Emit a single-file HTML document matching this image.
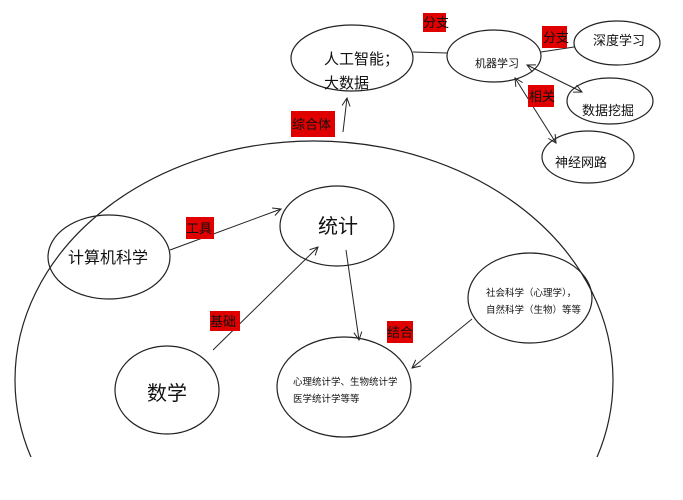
<!DOCTYPE html>
<html><head><meta charset="utf-8"><style>
html,body{margin:0;padding:0;background:#fff;width:683px;height:500px;overflow:hidden;}
svg{display:block;}
text{font-family:"Liberation Sans","Noto Sans CJK SC",sans-serif;fill:#111;}
</style></head><body>
<svg width="683" height="500" viewBox="0 0 683 500" xmlns="http://www.w3.org/2000/svg">
<defs>
<marker id="a" markerWidth="10" markerHeight="10" refX="9" refY="5" orient="auto-start-reverse" markerUnits="userSpaceOnUse">
<path d="M1,1 L9,5 L1,9" fill="none" stroke="#222" stroke-width="1"/></marker>
<clipPath id="c"><rect x="0" y="0" width="683" height="457"/></clipPath>
</defs>
<g fill="none" stroke="#222" stroke-width="1.2">
<ellipse cx="314" cy="380" rx="299" ry="239" clip-path="url(#c)"/>
<ellipse cx="352" cy="58" rx="61" ry="33"/>
<ellipse cx="494" cy="56" rx="47" ry="26"/>
<ellipse cx="617" cy="43" rx="43" ry="22"/>
<ellipse cx="610" cy="101" rx="43" ry="23"/>
<ellipse cx="588" cy="157" rx="46" ry="26"/>
<ellipse cx="337" cy="226" rx="57" ry="40"/>
<ellipse cx="109" cy="257" rx="61" ry="42"/>
<ellipse cx="167" cy="390" rx="52" ry="44"/>
<ellipse cx="344" cy="387" rx="67" ry="50"/>
<ellipse cx="530" cy="298" rx="62" ry="45"/>
</g>
<g stroke="#222" stroke-width="1" fill="none">
<line x1="413" y1="52" x2="447" y2="53"/>
<line x1="541" y1="52" x2="574" y2="47"/>
<line x1="527" y1="65" x2="582" y2="92" marker-start="url(#a)" marker-end="url(#a)"/>
<line x1="515" y1="78" x2="556" y2="143" marker-start="url(#a)" marker-end="url(#a)"/>
<line x1="343" y1="132" x2="347" y2="98" marker-end="url(#a)"/>
<line x1="170" y1="250" x2="281" y2="209" marker-end="url(#a)"/>
<line x1="213" y1="350" x2="318" y2="247" marker-end="url(#a)"/>
<line x1="346" y1="250" x2="359" y2="340" marker-end="url(#a)"/>
<line x1="472" y1="319" x2="412" y2="368" marker-end="url(#a)"/>
</g>
<g fill="#e00000">
<rect x="423" y="13" width="23" height="19"/>
<rect x="542" y="26" width="25" height="22"/>
<rect x="528" y="85" width="26" height="22"/>
<rect x="291" y="111" width="44" height="26"/>
<rect x="186" y="217" width="28" height="22"/>
<rect x="210" y="311" width="30" height="20"/>
<rect x="387" y="321" width="26" height="22"/>
</g>
<g font-size="13">
<text x="423" y="27" fill="#400">分支</text>
<text x="543" y="42" fill="#400">分支</text>
<text x="529" y="101" fill="#400">相关</text>
<text x="292" y="129" fill="#400">综合体</text>
<text x="186" y="233" fill="#400">工具</text>
<text x="210" y="326" fill="#400">基础</text>
<text x="387" y="337" fill="#400">结合</text>
</g>
<text x="324" y="64" font-size="15">人工智能；</text>
<text x="324" y="88" font-size="15">大数据</text>
<text x="475" y="67" font-size="11">机器学习</text>
<text x="593" y="45" font-size="13">深度学习</text>
<text x="582" y="115" font-size="13">数据挖掘</text>
<text x="555" y="167" font-size="13">神经网路</text>
<text x="318" y="233" font-size="20">统计</text>
<text x="68" y="263" font-size="16">计算机科学</text>
<text x="147" y="400" font-size="20">数学</text>
<text x="293" y="385" font-size="9.5">心理统计学、生物统计学</text>
<text x="293" y="402" font-size="9.5">医学统计学等等</text>
<text x="486" y="296" font-size="9.5">社会科学（心理学），</text>
<text x="486" y="313" font-size="9.5">自然科学（生物）等等</text>
</svg>
</body></html>
